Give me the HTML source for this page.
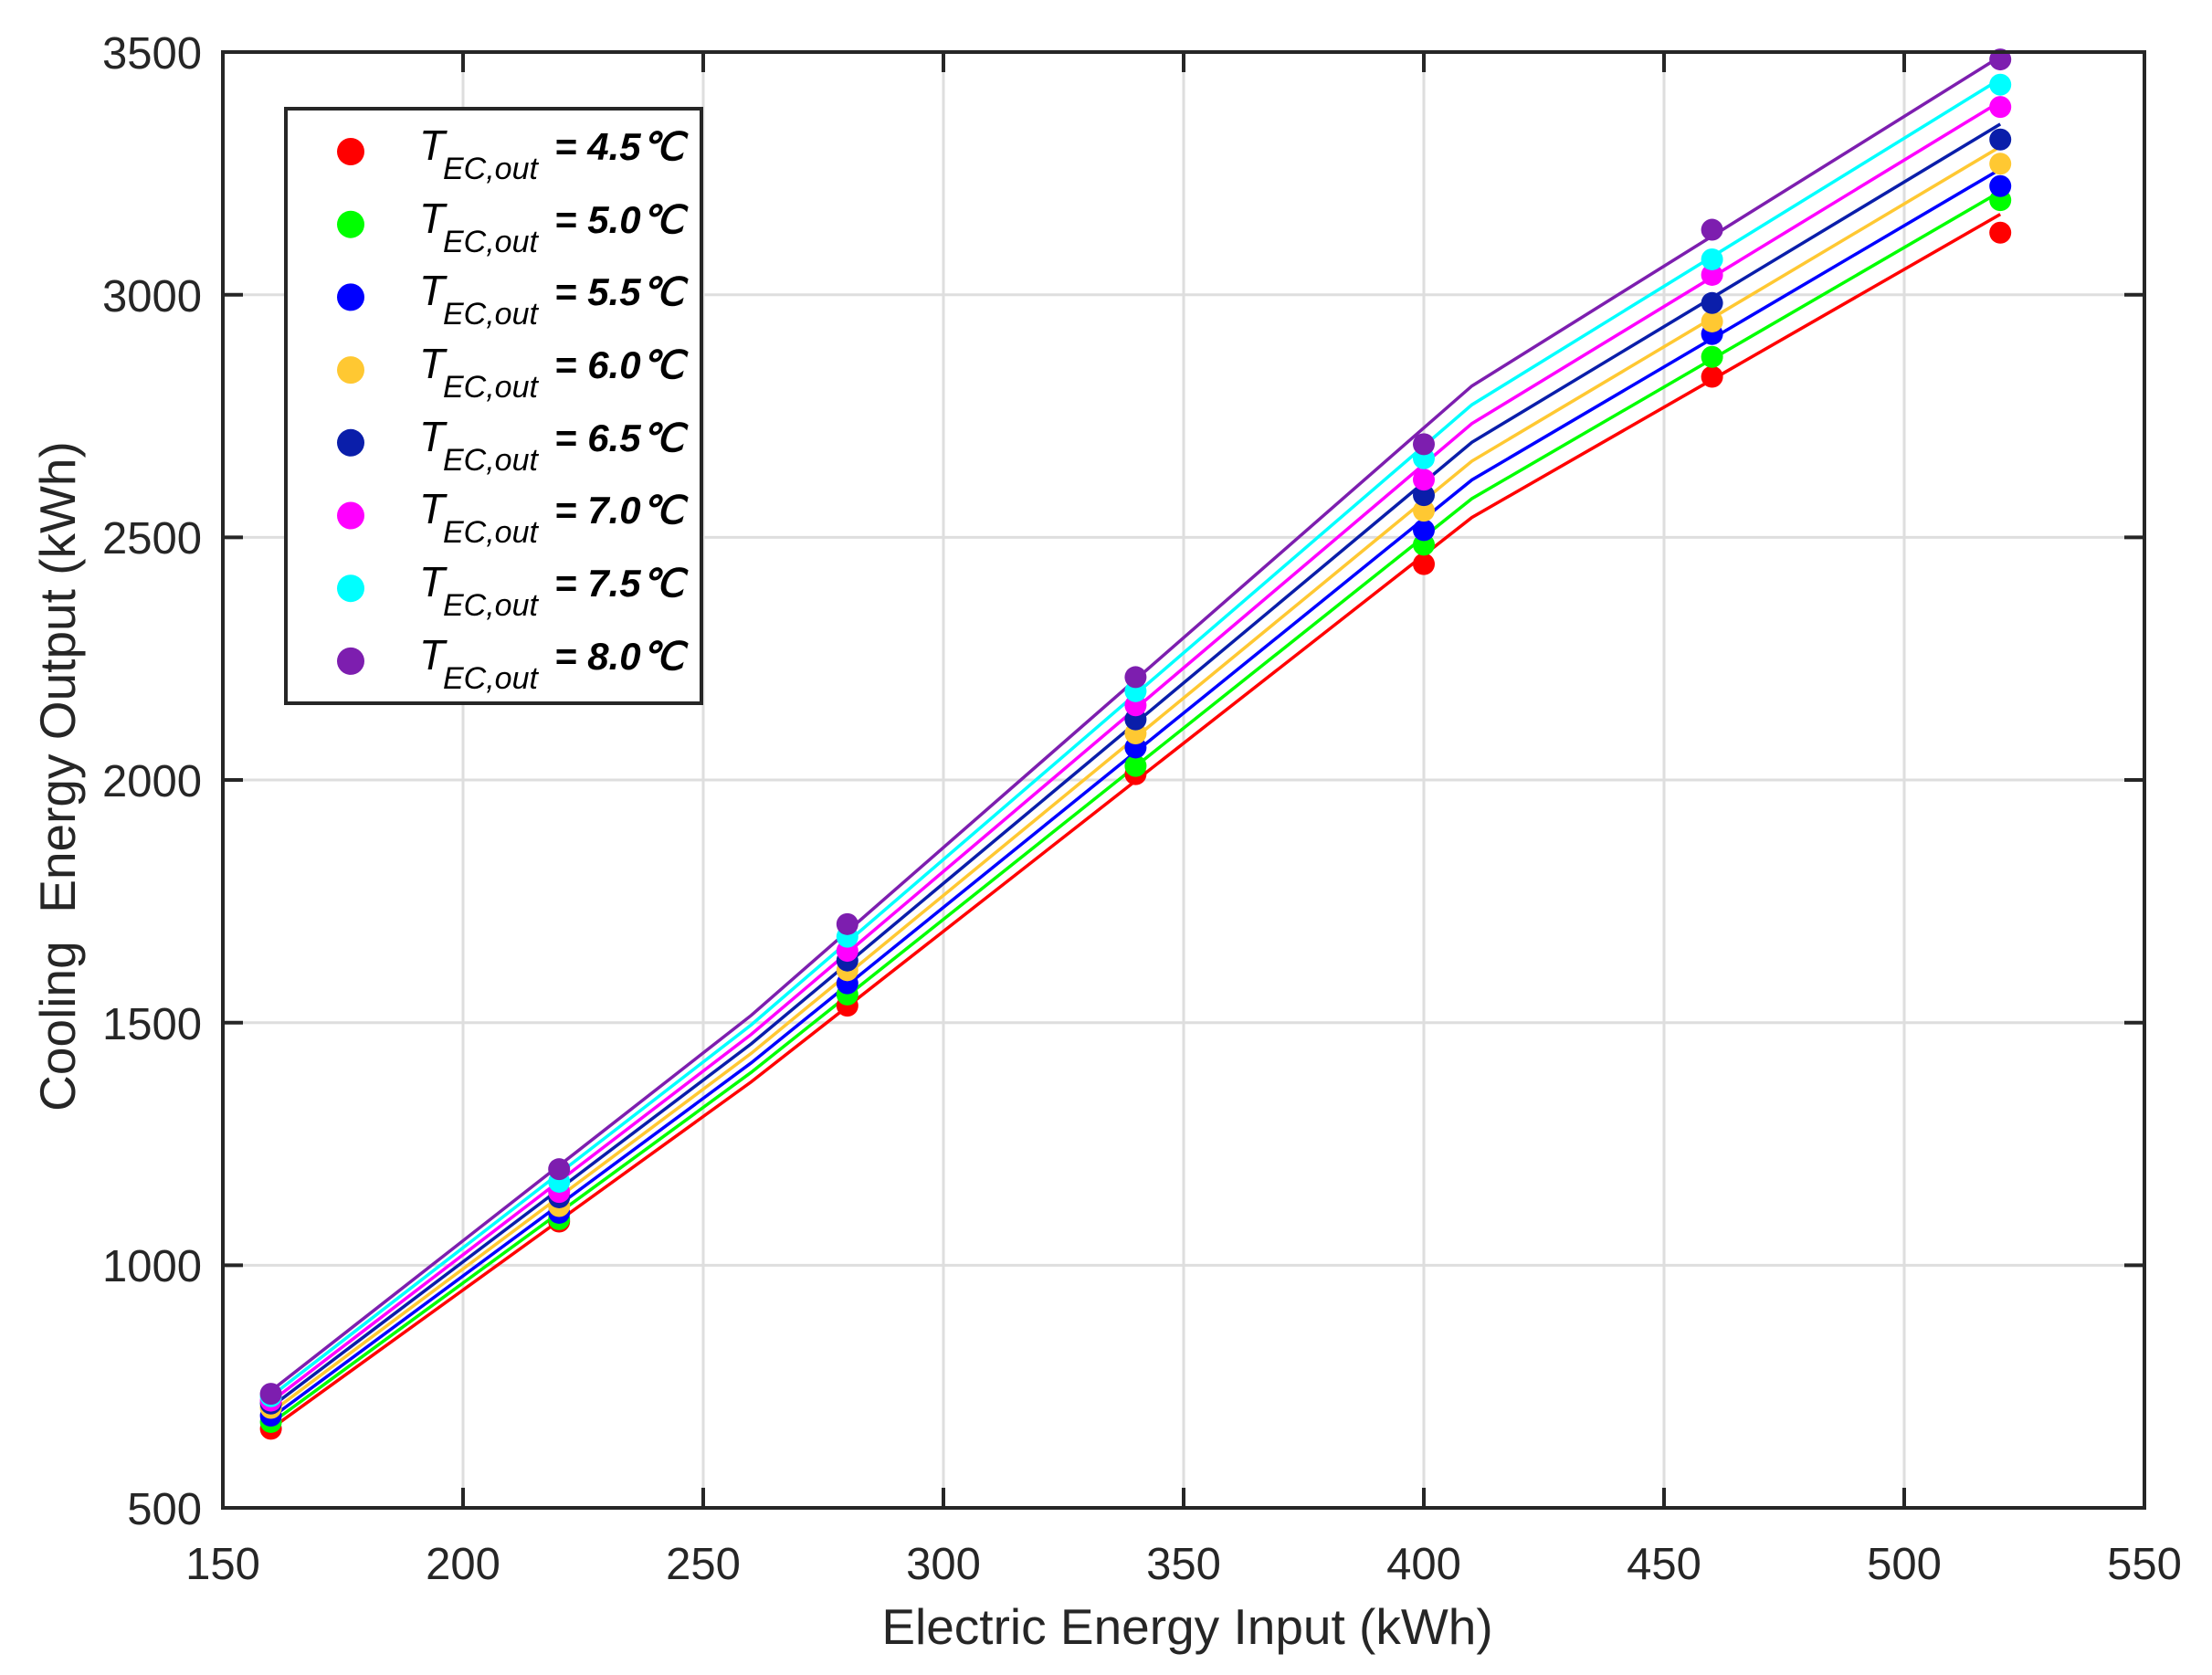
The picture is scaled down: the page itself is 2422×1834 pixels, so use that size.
<!DOCTYPE html>
<html><head><meta charset="utf-8"><style>
html,body{margin:0;padding:0;background:#fff;}
svg{display:block;font-family:"Liberation Sans",Arial,sans-serif;}
</style></head><body>
<svg id="s" width="2422" height="1834" viewBox="0 0 2422 1834" xmlns="http://www.w3.org/2000/svg">
<rect width="2422" height="1834" fill="#fff"/>
<g id="grid" stroke="#dedede" stroke-width="3"></g>
<g id="series"></g>
<g id="ticks" stroke="#262626" stroke-width="4"></g>
<rect x="244" y="57" width="2104" height="1594" fill="none" stroke="#262626" stroke-width="4"/>
<g font-size="49" fill="#262626" text-anchor="middle">
<text x="244" y="1729">150</text><text x="507" y="1729">200</text><text x="770" y="1729">250</text>
<text x="1033" y="1729">300</text><text x="1296" y="1729">350</text><text x="1559" y="1729">400</text>
<text x="1822" y="1729">450</text><text x="2085" y="1729">500</text><text x="2348" y="1729">550</text>
</g>
<g font-size="49" fill="#262626" text-anchor="end">
<text x="221" y="75">3500</text><text x="221" y="341">3000</text><text x="221" y="606">2500</text>
<text x="221" y="872">2000</text><text x="221" y="1138">1500</text><text x="221" y="1403">1000</text>
<text x="221" y="1669">500</text>
</g>
<text x="1300" y="1800" font-size="55" fill="#262626" text-anchor="middle">Electric Energy Input (kWh)</text>
<text transform="translate(82,850) rotate(-90)" font-size="55" fill="#262626" text-anchor="middle" xml:space="preserve">Cooling  Energy Output (kWh)</text>
<rect x="313" y="119" width="455" height="651" fill="#fff" stroke="#262626" stroke-width="4"/>
<g id="leg" font-style="italic" fill="#000">
<text x="459" y="175" font-size="46">T</text><text x="485" y="196" font-size="34">EC,out</text><text x="607" y="175" font-size="42" font-weight="bold">= 4.5℃</text>
<text x="459" y="255" font-size="46">T</text><text x="485" y="276" font-size="34">EC,out</text><text x="607" y="255" font-size="42" font-weight="bold">= 5.0℃</text>
<text x="459" y="334" font-size="46">T</text><text x="485" y="355" font-size="34">EC,out</text><text x="607" y="334" font-size="42" font-weight="bold">= 5.5℃</text>
<text x="459" y="414" font-size="46">T</text><text x="485" y="435" font-size="34">EC,out</text><text x="607" y="414" font-size="42" font-weight="bold">= 6.0℃</text>
<text x="459" y="494" font-size="46">T</text><text x="485" y="515" font-size="34">EC,out</text><text x="607" y="494" font-size="42" font-weight="bold">= 6.5℃</text>
<text x="459" y="573" font-size="46">T</text><text x="485" y="594" font-size="34">EC,out</text><text x="607" y="573" font-size="42" font-weight="bold">= 7.0℃</text>
<text x="459" y="653" font-size="46">T</text><text x="485" y="674" font-size="34">EC,out</text><text x="607" y="653" font-size="42" font-weight="bold">= 7.5℃</text>
<text x="459" y="733" font-size="46">T</text><text x="485" y="754" font-size="34">EC,out</text><text x="607" y="733" font-size="42" font-weight="bold">= 8.0℃</text>
</g>
<g id="legm"></g>
</svg>
<script>
var NS="http://www.w3.org/2000/svg";
function px(x){return 244+(x-150)*5.26;}
function py(y){return 1651-(y-500)*0.5313;}
function el(p,t,a){var e=document.createElementNS(NS,t);for(var k in a)e.setAttribute(k,a[k]);document.getElementById(p).appendChild(e);return e;}
for(var x=200;x<550;x+=50){el("grid","line",{x1:px(x),x2:px(x),y1:57,y2:1651});el("ticks","line",{x1:px(x),x2:px(x),y1:1651,y2:1629});el("ticks","line",{x1:px(x),x2:px(x),y1:57,y2:79});}
for(var y=1000;y<3500;y+=500){el("grid","line",{x1:244,x2:2348,y1:py(y),y2:py(y)});el("ticks","line",{x1:244,x2:266,y1:py(y),y2:py(y)});el("ticks","line",{x1:2348,x2:2326,y1:py(y),y2:py(y)});}
var cols=["#ff0000","#00ff00","#0000ff","#ffc832","#0a1eaa","#ff00ff","#00ffff","#7d1eaf"];
var pts=[[663,1090,1535,2012,2445,2831,3128],[677,1095,1558,2029,2485,2872,3195],[690,1108,1581,2067,2515,2919,3224],[706,1122,1608,2096,2555,2945,3270],[715,1140,1628,2125,2587,2983,3320],[721,1151,1648,2154,2619,3041,3387],[730,1172,1677,2183,2663,3073,3433],[735,1198,1703,2212,2692,3134,3485]];
var lr=[663,1378,2541,3166], lp=[741,1515,2812,3491];
var xs=[160,220,280,340,400,460,520];
for(var i=0;i<8;i++){
 var t=i/7, d="";
 var bx=[160,260,410,520];
 for(var j=0;j<4;j++){var v=lr[j]+(lp[j]-lr[j])*t;d+=(j?"L":"M")+px(bx[j]).toFixed(1)+" "+py(v).toFixed(1);}
 el("series","path",{d:d,fill:"none",stroke:cols[i],"stroke-width":3.5});
}
for(var i=0;i<8;i++){for(var j=0;j<7;j++)el("series","circle",{cx:px(xs[j]),cy:py(pts[i][j]),r:12,fill:cols[i]});
 el("legm","circle",{cx:384,cy:166+i*79.7,r:15,fill:cols[i]});}
</script>
</body></html>
